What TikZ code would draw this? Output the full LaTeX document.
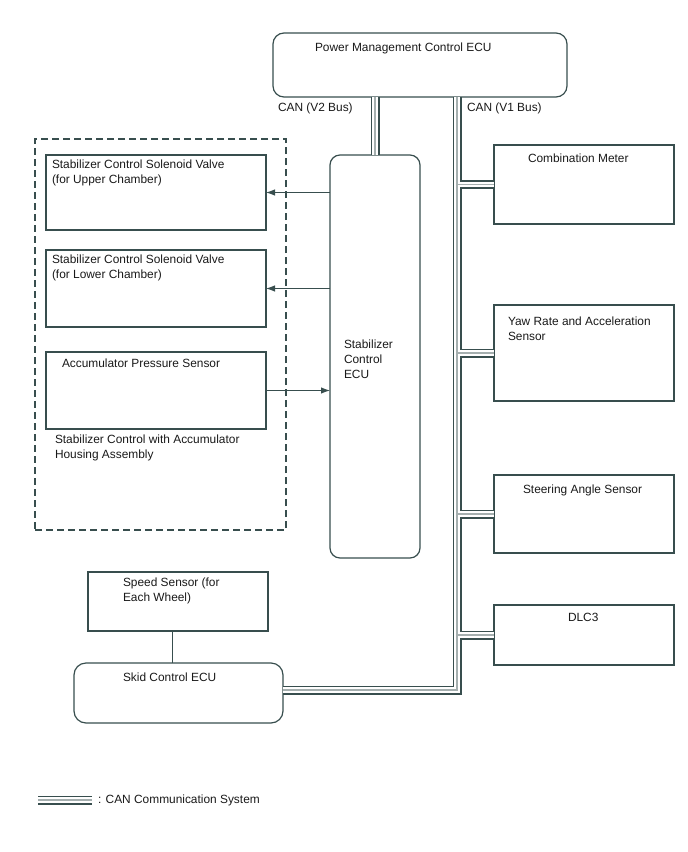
\documentclass[tikz,border=0pt]{standalone}
\usepackage{fontspec}
\setmainfont{Liberation Sans}
\usetikzlibrary{arrows.meta,positioning}
\definecolor{framecol}{RGB}{56,78,78}
\definecolor{busgray}{RGB}{165,175,175}
\definecolor{txtcol}{RGB}{25,25,25}

\begin{document}
\begin{tikzpicture}[x=1pt, y=-1pt, every node/.style={inner sep=0pt, outer sep=0pt},
    unit/.style={draw=framecol, line width=1.2pt, rectangle, anchor=north west},
    ecu/.style={unit, rounded corners=11pt},
    lbl/.style={font=\fontsize{11.9}{15}\selectfont, text=txtcol, align=left},
    sig/.style={draw=framecol, line width=1pt, -{Latex[length=9pt, width=6.5pt]}}]
    \useasboundingbox (0,0) rectangle (688,852);

    % Power Management Control ECU at the top
    \node[ecu, minimum width=294pt, minimum height=64pt] (pmecu) at (273,33) {};
    \node[lbl, anchor=west] (pmtxt) at (315,48) {Power Management Control ECU};
    \node[lbl, anchor=west] (v2txt) at (278,108) {CAN (V2 Bus)};
    \node[lbl, anchor=west] (v1txt) at (467,108) {CAN (V1 Bus)};

    % Stabilizer control ECU in the middle
    \node[ecu, rounded corners=10pt, minimum width=90pt, minimum height=403pt] (stabecu) at (330,155) {};
    \node[lbl, anchor=north west] (stabtxt) at (344,340) {Stabilizer\\Control\\ECU};

    % Housing assembly (dashed) with its parts
    \node[unit, dashed, dash pattern=on 7pt off 4pt, minimum width=251pt,
          minimum height=391pt] (housing) at (35,139) {};
    \node[unit, minimum width=220pt, minimum height=75pt] (upper) at (46,155) {};
    \node[lbl, anchor=north west] (uppertxt) at (52,160) {Stabilizer Control Solenoid Valve\\(for Upper Chamber)};
    \node[unit, minimum width=220pt, minimum height=77pt] (lower) at (46,250) {};
    \node[lbl, anchor=north west] (lowertxt) at (52,255) {Stabilizer Control Solenoid Valve\\(for Lower Chamber)};
    \node[unit, minimum width=220pt, minimum height=77pt] (accum) at (46,352) {};
    \node[lbl, anchor=west] (accumtxt) at (62,363) {Accumulator Pressure Sensor};
    \node[lbl, anchor=north west] (housingtxt) at (55,435) {Stabilizer Control with Accumulator\\Housing Assembly};

    % Arrows between ECU and housing parts
    \draw[sig] (stabecu.west |- upper.east) -- (upper.east);
    \draw[sig] (stabecu.west |- lower.east) -- (lower.east);
    \draw[sig] (accum.east) -- (stabecu.west |- accum.east);

    % Units on the V1 bus (right)
    \node[unit, minimum width=180pt, minimum height=79pt] (meter) at (494,145) {};
    \node[lbl, anchor=west] (metertxt) at (528,158) {Combination Meter};
    \node[unit, minimum width=180pt, minimum height=96pt] (yaw) at (494,305) {};
    \node[lbl, anchor=north west] (yawtxt) at (508,317) {Yaw Rate and Acceleration\\Sensor};
    \node[unit, minimum width=180pt, minimum height=78pt] (steer) at (494,475) {};
    \node[lbl, anchor=west] (steertxt) at (523,490) {Steering Angle Sensor};
    \node[unit, minimum width=180pt, minimum height=60pt] (dlc) at (494,605) {};
    \node[lbl, anchor=west] (dlctxt) at (568,617) {DLC3};

    % Speed sensor and skid control ECU (bottom left)
    \node[unit, minimum width=180pt, minimum height=59pt] (speed) at (88,572) {};
    \node[lbl, anchor=north west] (speedtxt) at (123,578) {Speed Sensor (for\\Each Wheel)};
    \node[ecu, rounded corners=12pt, minimum width=209pt, minimum height=60pt] (skid) at (74,663) {};
    \node[lbl, anchor=west] (skidtxt) at (123,677) {Skid Control ECU};
    \draw[framecol, line width=1pt] ([xshift=-6pt]speed.south) -- ([xshift=-6pt]speed.south |- skid.north);

    % Legend
    \coordinate (legstart) at (38,800);
    \node[lbl, anchor=west] (legtxt) at (98,800) {: CAN Communication System};

    % CAN lines, drawn in three layers
    \coordinate (v2) at (375,0);
    \coordinate (v1) at (457,0);
    \foreach \w/\c in {9pt/framecol, 5.5pt/white, 1.6pt/busgray} {
        \draw[line width=\w, draw=\c] (pmecu.south -| v2) -- (stabecu.north -| v2);
        \draw[line width=\w, draw=\c] (pmecu.south -| v1) |- ([yshift=3pt]skid.east);
        \foreach \n in {meter, yaw, steer, dlc}
            \draw[line width=\w, draw=\c] (v1 |- \n.west) -- (\n.west);
        \draw[line width=\w, draw=\c] (legstart) -- ([xshift=-6pt]legtxt.west);
    }
\end{tikzpicture}
\end{document}
